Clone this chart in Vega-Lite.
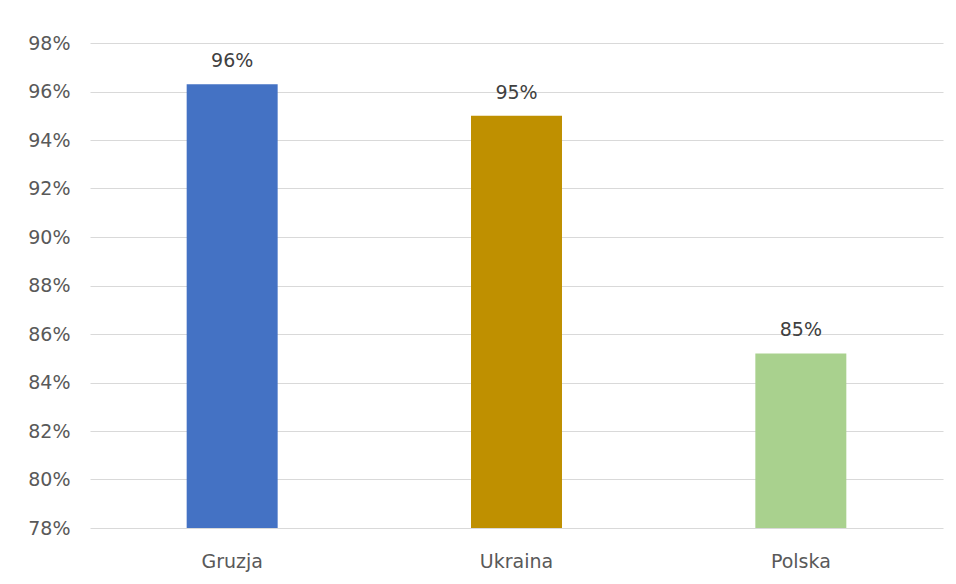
{
  "$schema": "https://vega.github.io/schema/vega-lite/v6.json",
  "width": 853,
  "height": 485,
  "autosize": {"type": "none"},
  "padding": {"left": 90, "top": 43, "right": 13, "bottom": 56},
  "background": "white",
  "config": {
    "view": {"stroke": null},
    "font": "DejaVu Sans"
  },
  "data": {
    "values": [
      {"kraj": "Gruzja", "wartosc": 0.963, "etykieta": "96%"},
      {"kraj": "Ukraina", "wartosc": 0.950, "etykieta": "95%"},
      {"kraj": "Polska", "wartosc": 0.852, "etykieta": "85%"}
    ]
  },
  "encoding": {
    "x": {
      "field": "kraj",
      "type": "nominal",
      "sort": null,
      "scale": {"paddingInner": 0.68, "paddingOuter": 0.34},
      "axis": {
        "title": null,
        "labelAngle": 0,
        "ticks": false,
        "domain": false,
        "labelFont": "DejaVu Sans",
        "labelFontSize": 19,
        "labelColor": "#595959",
        "labelPadding": 24
      }
    },
    "y": {
      "field": "wartosc",
      "type": "quantitative",
      "scale": {"domain": [0.78, 0.98], "zero": false, "nice": false},
      "axis": {
        "title": null,
        "format": ".0%",
        "values": [0.78, 0.80, 0.82, 0.84, 0.86, 0.88, 0.90, 0.92, 0.94, 0.96, 0.98],
        "ticks": false,
        "domain": false,
        "grid": true,
        "gridColor": "#d9d9d9",
        "gridWidth": 1,
        "labelFont": "DejaVu Sans",
        "labelFontSize": 19,
        "labelColor": "#595959",
        "labelPadding": 20
      }
    }
  },
  "layer": [
    {
      "mark": {"type": "bar"},
      "encoding": {
        "y2": {"datum": 0.78},
        "color": {
          "field": "kraj",
          "type": "nominal",
          "scale": {"domain": ["Gruzja", "Ukraina", "Polska"], "range": ["#4472C4", "#BF9000", "#A9D18E"]},
          "legend": null
        }
      }
    },
    {
      "mark": {"type": "text", "baseline": "bottom", "dy": -13, "font": "DejaVu Sans", "fontSize": 19, "color": "#404040"},
      "encoding": {
        "text": {"field": "etykieta"}
      }
    }
  ]
}
